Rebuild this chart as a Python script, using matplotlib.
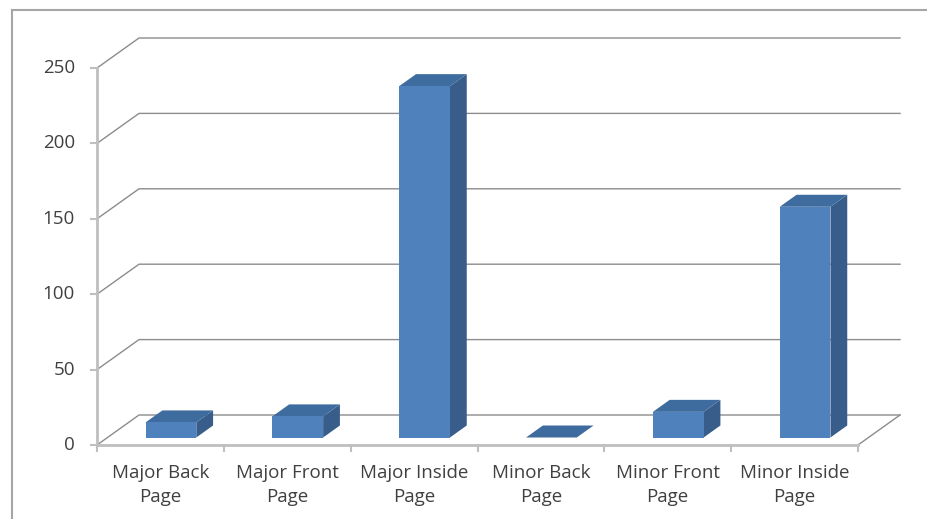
import matplotlib
matplotlib.use("Agg")
import matplotlib.pyplot as plt
from matplotlib.patches import Polygon, Rectangle

# Data
categories = ["Major Back\nPage", "Major Front\nPage", "Major Inside\nPage",
              "Minor Back\nPage", "Minor Front\nPage", "Minor Inside\nPage"]
values = [10, 14, 233, 0, 17, 153]
y_ticks = [0, 50, 100, 150, 200, 250]

# Styling
FRONT = "#4F81BD"
TOP = "#3F6C9F"
SIDE = "#385D8A"
GRID = "#8C8C8C"
AXIS = "#BFBFBF"
TEXT = "#404040"
FONT = "Open Sans"

W, H = 928, 519
fig = plt.figure(figsize=(W / 100, H / 100), dpi=100)
fig.patch.set_facecolor("white")

# Axes covers the front plane of the 3D box
left_px, right_px, bot_px, top_px = 97, 858, 445, 68
ax = fig.add_axes([left_px / W, (H - bot_px) / H,
                   (right_px - left_px) / W, (bot_px - top_px) / H])
n = len(categories)
ax.set_xlim(0, n)
ax.set_ylim(0, 250)
ax.axis("off")

# Depth offset of the back wall, in data units
px_per_x = (right_px - left_px) / n
px_per_y = (bot_px - top_px) / 250
DX = 42 / px_per_x
DY = 30 / px_per_y

# Gridlines: left wall diagonal + back wall horizontal
for v in y_ticks:
    ax.plot([0, DX, n + DX], [v, v + DY, v + DY], color=GRID, lw=1.0,
            clip_on=False, zorder=1)

# Floor edges
ax.plot([0, n], [0, 0], color=AXIS, lw=2.0, clip_on=False, zorder=2)
ax.plot([n, n + DX], [0, DY], color=GRID, lw=1.0, clip_on=False, zorder=1)

# Value axis line and ticks
ax.plot([0, 0], [0, 250], color=AXIS, lw=2.0, clip_on=False, zorder=2)
tick_len_x = 6 / px_per_x
for v in y_ticks:
    ax.plot([-tick_len_x, 0], [v, v], color=AXIS, lw=1.5, clip_on=False, zorder=2)
    ax.text(-22 / px_per_x, v, str(v), ha="right", va="center",
            fontsize=13.5, color=TEXT, family=FONT)

# Category ticks and labels
tick_len_y = 6 / px_per_y
for i in range(n + 1):
    ax.plot([i, i], [0, -tick_len_y], color=AXIS, lw=1.5, clip_on=False, zorder=2)
for i, lab in enumerate(categories):
    ax.text(i + 0.5, -19 / px_per_y, lab, ha="center", va="top",
            fontsize=13.5, color=TEXT, family=FONT, linespacing=1.42)

# 3D bars
bar_w = 0.40
d0, d1 = 0.25, 0.65   # depth span of the bars (fraction of the box depth)
for i, v in enumerate(values):
    x0 = i + 0.5 - bar_w / 2 + d0 * DX
    x1 = x0 + bar_w
    yb = d0 * DY
    yt = yb + v
    ddx = (d1 - d0) * DX
    ddy = (d1 - d0) * DY
    # side face
    ax.add_patch(Polygon([(x1, yb), (x1 + ddx, yb + ddy), (x1 + ddx, yt + ddy), (x1, yt)],
                         closed=True, facecolor=SIDE, edgecolor="none",
                         clip_on=False, zorder=3))
    # top face
    ax.add_patch(Polygon([(x0, yt), (x1, yt), (x1 + ddx, yt + ddy), (x0 + ddx, yt + ddy)],
                         closed=True, facecolor=TOP, edgecolor="none",
                         clip_on=False, zorder=3))
    # front face
    if v > 0:
        ax.add_patch(Rectangle((x0, yb), bar_w, v, facecolor=FRONT,
                               edgecolor="none", clip_on=False, zorder=4))

# Chart area border (top and left)
fig.add_artist(plt.Line2D([12 / W, 12 / W], [0, 1 - 10 / H], color="#A6A6A6",
                          lw=1.5, transform=fig.transFigure))
fig.add_artist(plt.Line2D([12 / W, 1], [1 - 10 / H, 1 - 10 / H], color="#A6A6A6",
                          lw=1.5, transform=fig.transFigure))

fig.savefig("out.png", dpi=100, facecolor="white")
